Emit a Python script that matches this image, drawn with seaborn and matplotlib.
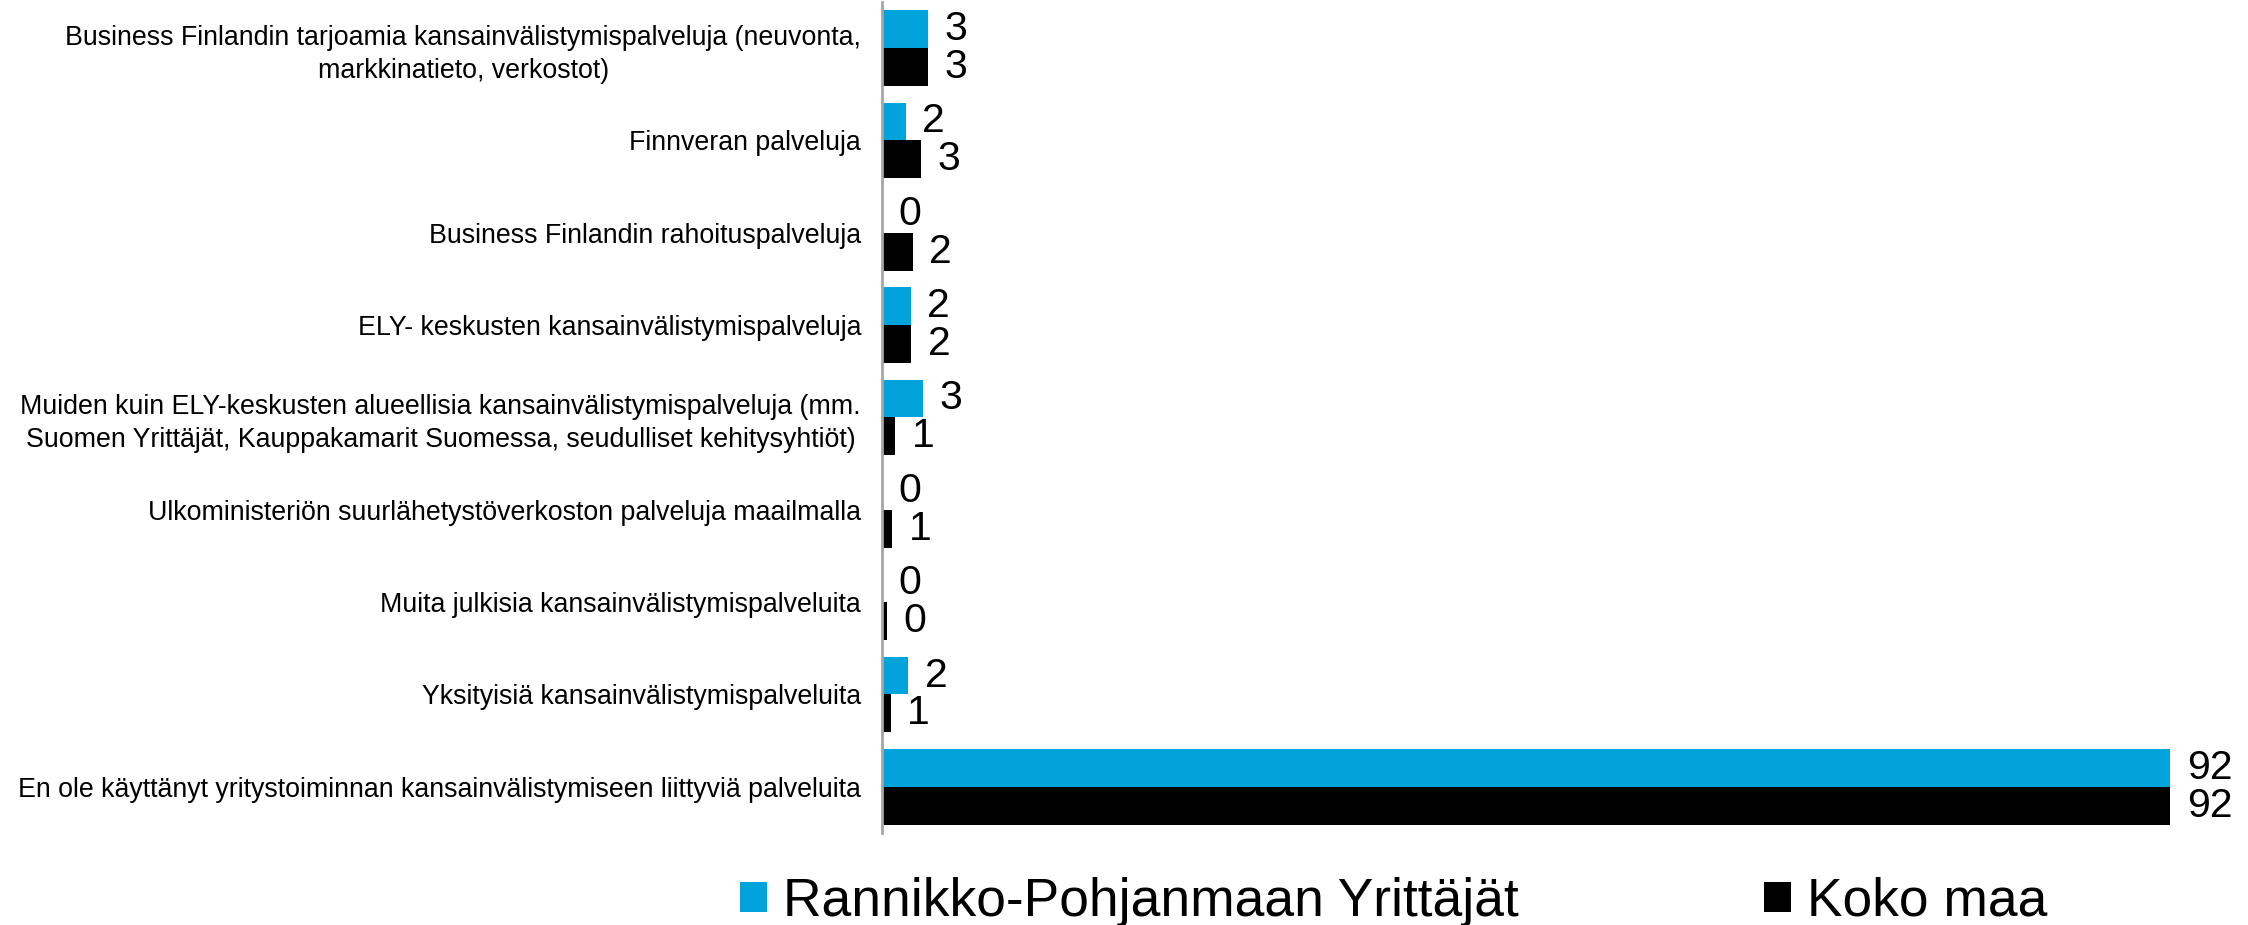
import numpy as np
import pandas as pd
import matplotlib
matplotlib.use('Agg')
import matplotlib.pyplot as plt
import seaborn as sns

# kategoriat (ylhäältä alas)
categories = [
    'Business Finlandin tarjoamia kansainvälistymispalveluja (neuvonta,\nmarkkinatieto, verkostot)',
    'Finnveran palveluja',
    'Business Finlandin rahoituspalveluja',
    'ELY- keskusten kansainvälistymispalveluja',
    'Muiden kuin ELY-keskusten alueellisia kansainvälistymispalveluja (mm.\nSuomen Yrittäjät, Kauppakamarit Suomessa, seudulliset kehitysyhtiöt)',
    'Ulkoministeriön suurlähetystöverkoston palveluja maailmalla',
    'Muita julkisia kansainvälistymispalveluita',
    'Yksityisiä kansainvälistymispalveluita',
    'En ole käyttänyt yritystoiminnan kansainvälistymiseen liittyviä palveluita',
]
groups = ['Rannikko-Pohjanmaan Yrittäjät', 'Koko maa']
# arvot luettu kuvasta (%)
rannikko = [3.3, 1.7, 0.0, 2.05, 2.95, 0.0, 0.0, 1.9, 92.0]
koko_maa = [3.3, 2.8, 2.2, 2.1, 0.93, 0.74, 0.33, 0.62, 92.0]
colors = ['#00A3DA', '#000000']

df = pd.DataFrame({
    'kategoria': categories * 2,
    'ryhma': [groups[0]] * len(categories) + [groups[1]] * len(categories),
    'arvo': rannikko + koko_maa,
})

sns.set_theme(style='white')
plt.rcParams['font.family'] = ['Liberation Sans', 'DejaVu Sans']
plt.rcParams['text.color'] = 'black'

fig = plt.figure(figsize=(22.48, 9.25), dpi=100)
ax = fig.add_axes([0.3923, 0.0995, 0.9653 - 0.3923, 0.998 - 0.0995])

sns.barplot(data=df, y='kategoria', x='arvo', hue='ryhma', order=categories,
            hue_order=groups, palette=colors, orient='h', width=0.82,
            saturation=1, linewidth=0, ax=ax)

# arvot palkkien perään
for cont in ax.containers:
    ax.bar_label(cont, fmt='%.0f', padding=12, fontsize=29.5, color='black')

ax.set_xlim(0, 92)
ax.set_xlabel('')
ax.set_ylabel('')
ax.set_xticks([])
for s in ['top', 'right', 'bottom']:
    ax.spines[s].set_visible(False)
ax.spines['left'].set_color('#A6A6A6')
ax.spines['left'].set_linewidth(2)
ax.tick_params(axis='y', length=0, pad=15, labelsize=19.3, labelcolor='black')
for lab in ax.get_yticklabels():
    lab.set_multialignment('center')
    lab.set_linespacing(1.35)

# selite alas
handles, labels = ax.get_legend_handles_labels()
ax.get_legend().remove()
fig.legend(handles, labels, loc='center', bbox_to_anchor=(0.62, 0.025), ncol=2,
           frameon=False, fontsize=38.4, handlelength=0.51, handleheight=0.51,
           handletextpad=0.3, columnspacing=4.6, borderaxespad=0,
           labelcolor='black')

plt.savefig('out.png', dpi=100)
